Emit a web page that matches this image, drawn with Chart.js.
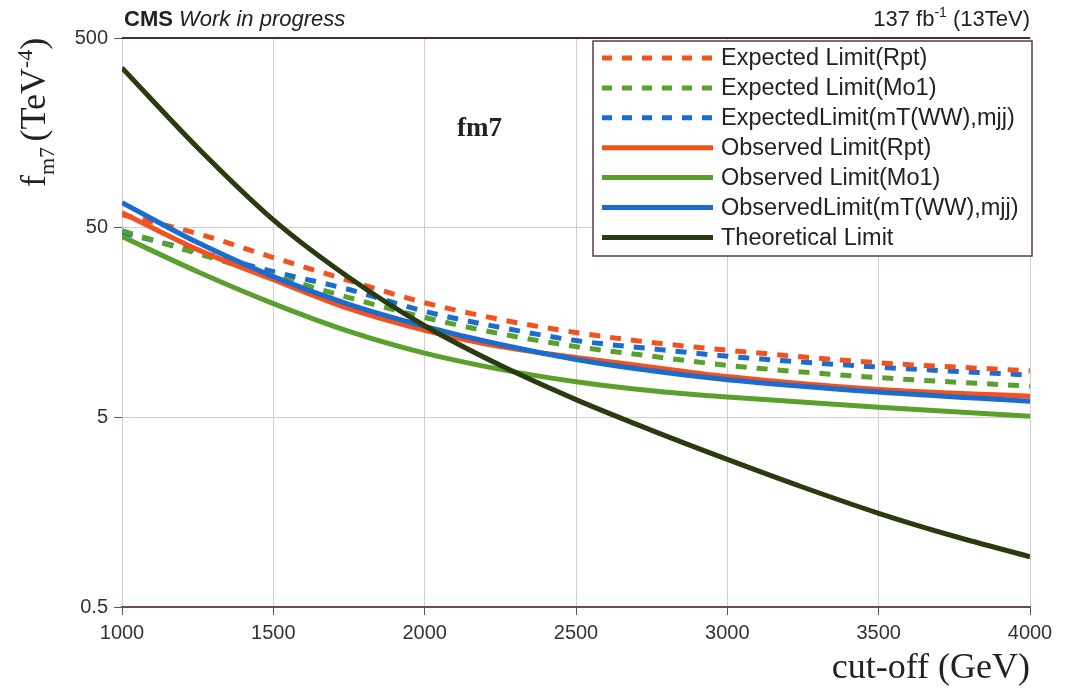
<!DOCTYPE html>
<html>
<head>
<meta charset="utf-8">
<script src="https://cdn.jsdelivr.net/npm/chart.js@4/dist/chart.umd.min.js"></script>
<style>
  html, body { margin: 0; padding: 0; background: #fff; }
  #wrap { width: 1067px; height: 690px; }
</style>
</head>
<body>
<div id="wrap"><canvas id="limitChart" width="1067" height="690"></canvas></div>
<script>
// cut-off values (GeV)
const cutoff = [1000, 1250, 1500, 1750, 2000, 2250, 2500, 2750, 3000, 3500, 4000];
const theoryCutoff = [1000, 1250, 1500, 1750, 2000, 2250, 2500, 2750, 3000, 3250, 3500, 3750, 4000];

// limits on fm7 (TeV^-4)
const expRpt = [58.5, 46.5, 34.8, 26.3, 20.1, 16.4, 14.0, 12.4, 11.3, 9.7, 8.8];
const expMo1 = [48.2, 36.5, 27.9, 21.4, 16.8, 13.8, 11.8, 10.5, 9.4, 8.1, 7.3];
const expMT  = [47, 37.4, 29.3, 23.6, 18.1, 14.9, 12.7, 11.5, 10.5, 9.2, 8.35];
const obsRpt = [60, 38.3, 26.6, 18.7, 14.4, 11.8, 10.35, 9.2, 8.2, 7.0, 6.46];
const obsMo1 = [44.9, 29.3, 19.9, 14.2, 10.9, 8.95, 7.7, 6.9, 6.4, 5.65, 5.06];
const obsMT  = [67.7, 41.7, 27.6, 19.7, 15.1, 12.1, 10.1, 8.8, 7.9, 6.8, 6.07];
const theory = [348, 132, 55, 27.3, 15.2, 9.4, 6.2, 4.27, 3.0, 2.14, 1.56, 1.18, 0.92];

const yTicks = [0.5, 5, 50, 500];
const xTicks = [1000, 1500, 2000, 2500, 3000, 3500, 4000];

const RED = '#f4511e', GREEN = '#5aa02c', BLUE = '#1a6ccf', DARK = '#2b3b10';

function pts(xs, ys) { return xs.map((x, i) => ({ x: x, y: ys[i] })); }

function line(label, xs, ys, color, dashed, order) {
    return {
        label: label,
        data: pts(xs, ys),
        borderColor: color,
        backgroundColor: color,
        borderWidth: 5,
        borderDash: dashed ? [11, 10] : [],
        pointRadius: 0,
        fill: false,
        cubicInterpolationMode: 'monotone',
        order: order
    };
}

const datasets = [
    line('Expected Limit(Rpt)', cutoff, expRpt, RED, true, 3),
    line('Expected Limit(Mo1)', cutoff, expMo1, GREEN, true, 3),
    line('ExpectedLimit(mT(WW),mjj)', cutoff, expMT, BLUE, true, 3),
    line('Observed Limit(Rpt)', cutoff, obsRpt, RED, false, 2),
    line('Observed Limit(Mo1)', cutoff, obsMo1, GREEN, false, 2),
    line('ObservedLimit(mT(WW),mjj)', cutoff, obsMT, BLUE, false, 1),
    line('Theoretical Limit', theoryCutoff, theory, DARK, false, 0)
];

const SANS = '"Liberation Sans", Arial, sans-serif';
const SERIF = '"Liberation Serif", "DejaVu Serif", serif';

// texts, legend box and y-axis title drawn on top
const decorPlugin = {
    id: 'decor',
    afterDraw(chart) {
        const ctx = chart.ctx;
        const area = chart.chartArea;
        ctx.save();

        // top frame line
        ctx.strokeStyle = '#4a2c3c';
        ctx.lineWidth = 2;
        ctx.beginPath();
        ctx.moveTo(area.left, area.top);
        ctx.lineTo(area.right, area.top);
        ctx.stroke();

        // header
        ctx.fillStyle = '#222';
        ctx.textBaseline = 'middle';
        ctx.textAlign = 'left';
        ctx.font = 'bold 22px ' + SANS;
        ctx.fillText('CMS', area.left + 2, 20);
        const w = ctx.measureText('CMS ').width;
        ctx.font = 'italic 22px ' + SANS;
        ctx.fillText('Work in progress', area.left + 2 + w, 20);

        ctx.textAlign = 'right';
        ctx.font = '22px ' + SANS;
        ctx.fillText(' (13TeV)', area.right, 20);
        let rx = area.right - ctx.measureText(' (13TeV)').width;
        ctx.font = '14px ' + SANS;
        ctx.fillText('-1', rx, 13);
        rx -= ctx.measureText('-1').width;
        ctx.font = '22px ' + SANS;
        ctx.fillText('137 fb', rx, 20);

        // fm7 label
        ctx.textAlign = 'left';
        ctx.font = 'bold 27px ' + SERIF;
        ctx.fillText('fm7', 457, 129);

        // legend
        const bx = 593, by = 41, bw = 439, bh = 215;
        ctx.fillStyle = '#fff';
        ctx.fillRect(bx, by, bw, bh);
        ctx.strokeStyle = '#5a3a4c';
        ctx.lineWidth = 1.5;
        ctx.strokeRect(bx, by, bw, bh);
        ctx.font = '23.5px ' + SANS;
        ctx.textBaseline = 'middle';
        chart.data.datasets.forEach((ds, i) => {
            const y = 58 + i * 29.9;
            ctx.strokeStyle = ds.borderColor;
            ctx.lineWidth = 5;
            ctx.setLineDash(ds.borderDash.length ? [10, 10] : []);
            ctx.beginPath();
            ctx.moveTo(602, y);
            ctx.lineTo(713, y);
            ctx.stroke();
            ctx.setLineDash([]);
            ctx.fillStyle = '#222';
            ctx.fillText(ds.label, 721, y + 1);
        });

        // y axis title: f_m7 (TeV^-4)
        ctx.translate(45, 187);
        ctx.rotate(-Math.PI / 2);
        ctx.fillStyle = '#222';
        ctx.textBaseline = 'alphabetic';
        ctx.textAlign = 'left';
        let x = 0;
        ctx.font = '36px ' + SERIF;
        ctx.fillText('f', x, 0);
        x += ctx.measureText('f').width;
        ctx.font = '22px ' + SERIF;
        ctx.fillText('m7', x, 9);
        x += ctx.measureText('m7 ').width;
        ctx.font = '36px ' + SERIF;
        ctx.fillText('(TeV', x, 0);
        x += ctx.measureText('(TeV').width;
        ctx.font = '22px ' + SERIF;
        ctx.fillText('-4', x, -13);
        x += ctx.measureText('-4').width;
        ctx.font = '36px ' + SERIF;
        ctx.fillText(')', x, 0);

        ctx.restore();
    }
};

const ctx = document.getElementById('limitChart').getContext('2d');
new Chart(ctx, {
    type: 'line',
    data: { datasets: datasets },
    options: {
        responsive: false,
        animation: false,
        layout: { padding: { top: 38, right: 37, left: 0, bottom: 0 } },
        plugins: {
            legend: { display: false },
            tooltip: { enabled: false }
        },
        scales: {
            x: {
                type: 'linear',
                min: 1000,
                max: 4000,
                afterBuildTicks: s => { s.ticks = xTicks.map(v => ({ value: v })); },
                afterFit: s => { s.height = 83; },
                grid: { color: '#cfcfcf', lineWidth: 1, tickLength: 8, tickColor: '#6a4c5e' },
                border: { color: '#6a4c5e', width: 2 },
                ticks: {
                    color: '#333',
                    padding: 6,
                    font: { family: SANS, size: 20 },
                    callback: v => String(v)
                },
                title: {
                    display: true,
                    text: 'cut-off (GeV)',
                    align: 'end',
                    color: '#222',
                    padding: { top: 0, bottom: 0 },
                    font: { family: SERIF, size: 36 }
                }
            },
            y: {
                type: 'logarithmic',
                min: 0.5,
                max: 500,
                afterBuildTicks: s => { s.ticks = yTicks.map(v => ({ value: v })); },
                afterFit: s => { s.width = 122; },
                grid: { color: '#cfcfcf', lineWidth: 1, tickLength: 8, tickColor: '#6a4c5e' },
                border: { display: false },
                ticks: {
                    color: '#333',
                    padding: 6,
                    font: { family: SANS, size: 20 },
                    callback: v => String(v)
                }
            }
        }
    },
    plugins: [decorPlugin]
});
</script>
</body>
</html>
